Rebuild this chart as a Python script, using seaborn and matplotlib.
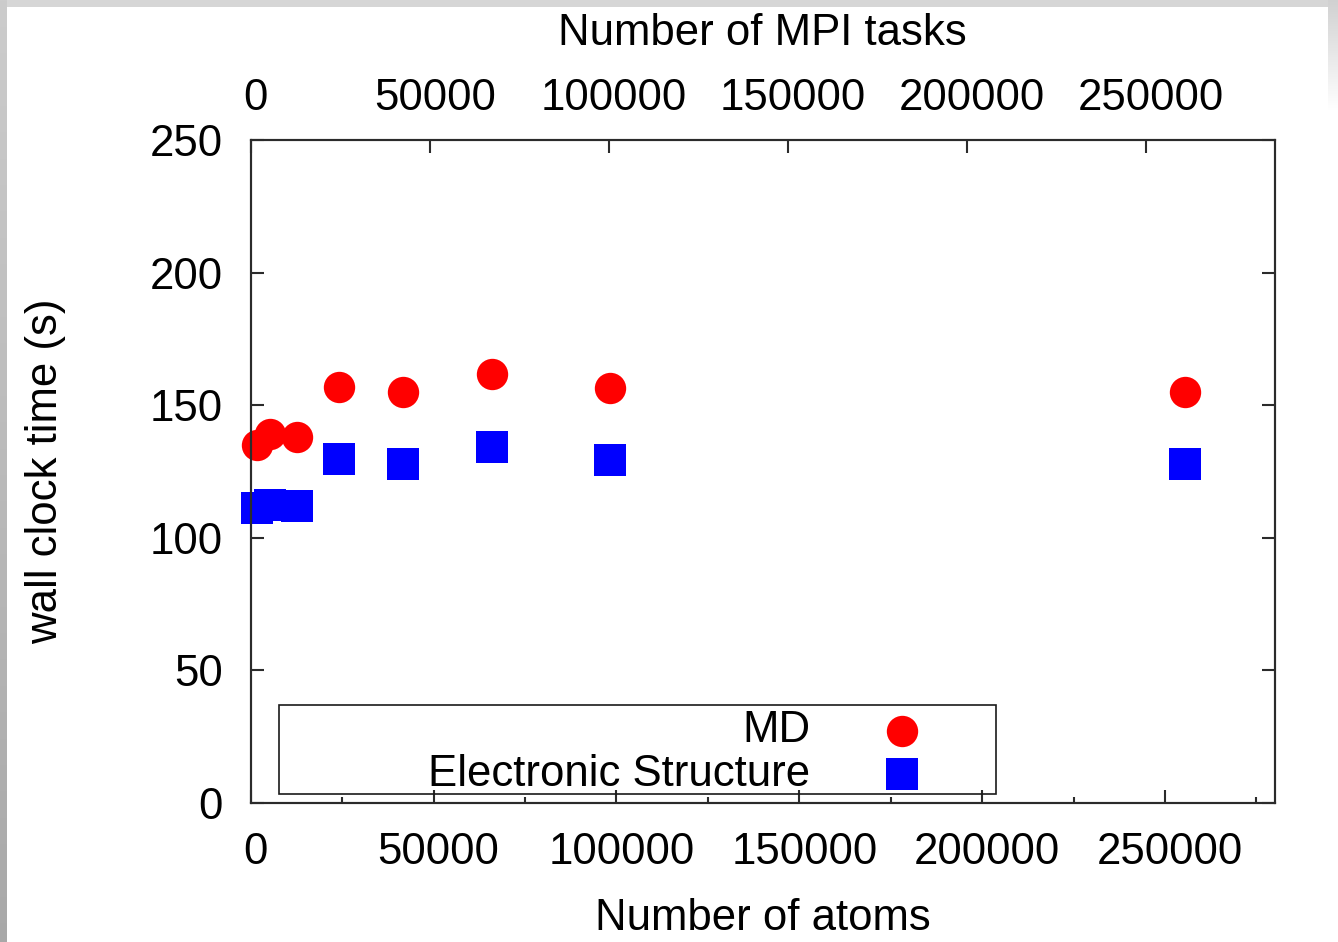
import numpy as np
import pandas as pd
import matplotlib
matplotlib.use("Agg")
import matplotlib.pyplot as plt
import matplotlib.transforms as mtransforms
from matplotlib.ticker import MultipleLocator
from matplotlib.patches import Rectangle
import seaborn as sns

# Weak-scaling timings
atoms = [1640, 5280, 12600, 24200, 41600, 66000, 98300, 255400]
md_time = [135.1, 139.3, 138.0, 157.0, 154.9, 161.6, 156.6, 155.1]
es_time = [111.1, 112.4, 112.1, 129.8, 127.7, 134.1, 129.4, 127.7]
series_names = ["MD", "Electronic Structure"]

x_ticks = [0, 50000, 100000, 150000, 200000, 250000]
y_ticks = [0, 50, 100, 150, 200, 250]
mpi_ticks = [0, 50000, 100000, 150000, 200000, 250000]

sns.set_theme(style="ticks")
plt.rcParams["font.family"] = ["Liberation Sans", "DejaVu Sans"]
plt.rcParams["text.color"] = "black"
plt.rcParams["axes.labelcolor"] = "black"

FS = 31.5
SPINE = "#2b2b2b"
W, H = 1338, 942

fig = plt.figure(figsize=(W / 100, H / 100), dpi=100)
fig.patch.set_facecolor("white")

# thin grey frame along the left and top edges of the canvas
frame = np.zeros((H, W, 4))
left_w, top_h = 7, 7
grad = np.linspace(0.80, 0.66, H)
frame[:, :left_w, :3] = grad[:, None, None]
frame[:, :left_w, 3] = 1.0
frame[:top_h, left_w:, :3] = 0.84
frame[:top_h, left_w:, 3] = 1.0
right_fade = np.clip(1 - np.arange(H) / 110.0, 0, 1)
frame[:, W - 10:, :3] = 0.82
frame[:, W - 10:, 3] = right_fade[:, None]
fig.figimage(frame, 0, 0, origin="upper", zorder=0)

ax = fig.add_axes([250.7 / W, 1 - 803 / H, 1024 / W, 663 / H])

df_md = pd.DataFrame({"atoms": atoms, "time": md_time})
df_es = pd.DataFrame({"atoms": atoms, "time": es_time})

sns.scatterplot(data=df_md, x="atoms", y="time", ax=ax, color="#ff0000",
                marker="o", s=510, linewidth=0, label=series_names[0],
                clip_on=False)
sns.scatterplot(data=df_es, x="atoms", y="time", ax=ax, color="#0000ff",
                marker="s", s=520, linewidth=0, label=series_names[1],
                clip_on=False)

ax.set_xlim(0, 280000)
ax.set_ylim(0, 250)
ax.set_xticks(x_ticks)
ax.set_xticklabels([str(v) for v in x_ticks])
ax.set_yticks(y_ticks)
ax.set_yticklabels([str(v) for v in y_ticks])
ax.xaxis.set_minor_locator(MultipleLocator(25000))

for sp in ax.spines.values():
    sp.set_visible(True)
    sp.set_color(SPINE)
    sp.set_linewidth(1.5)

ax.tick_params(axis="both", which="both", direction="in", width=1.5,
               color=SPINE, labelsize=FS, labelcolor="black")
ax.tick_params(axis="both", which="major", length=9.5)
ax.tick_params(axis="x", which="minor", length=4.5)
ax.tick_params(axis="x", which="both", bottom=True, top=False, pad=21)
ax.tick_params(axis="y", which="both", left=True, right=True, pad=20)

ax.set_xlabel("Number of atoms", fontsize=FS, va="center", color="black")
ax.xaxis.set_label_coords(0.5, -0.174)
ax.set_ylabel("wall clock time (s)", fontsize=FS, va="center", color="black")
ax.yaxis.set_label_coords((46 - 250.7) / 1024, 0.5)

# upper axis: number of MPI tasks
ax2 = ax.twiny()
ax2.set_xlim(0, 286000)
ax2.set_xticks(mpi_ticks)
ax2.set_xticklabels([str(v) for v in mpi_ticks])
ax2.xaxis.set_minor_locator(MultipleLocator(10 ** 9))
for sp in ax2.spines.values():
    sp.set_color(SPINE)
    sp.set_linewidth(1.5)
ax2.tick_params(axis="x", which="major", direction="in", length=9.5,
                width=1.5, color=SPINE, labelsize=FS, labelcolor="black",
                pad=15, top=True, bottom=False)
ax2.set_xlabel("Number of MPI tasks", fontsize=FS, va="center", color="black")
ax2.xaxis.set_label_coords(0.5, (803 - 33) / 663)

# legend: labels right-aligned with the symbol after the text
handles, labels = ax.get_legend_handles_labels()
leg = ax.legend(handles, labels, loc="upper right",
                bbox_to_anchor=((946 - 250.7) / 1024, (803 - 710) / 663),
                frameon=False, markerfirst=False, fontsize=FS,
                handlelength=2.0, handletextpad=1.1, labelspacing=0.06,
                borderpad=0, borderaxespad=0, scatterpoints=1)
for t in leg.get_texts():
    t.set_color("black")
ax.add_patch(Rectangle(((279 - 250.7) / 1024, (803 - 794) / 663),
                       (996 - 279) / 1024, (794 - 705) / 663,
                       transform=ax.transAxes, fill=False, ec="#1a1a1a",
                       lw=1.2, zorder=4, clip_on=False))

shift = mtransforms.ScaledTranslation(5 / 100, 0, fig.dpi_scale_trans)
for lab in ax.get_xticklabels() + ax2.get_xticklabels():
    lab.set_transform(lab.get_transform() + shift)

fig.savefig("out.png", dpi=100)
